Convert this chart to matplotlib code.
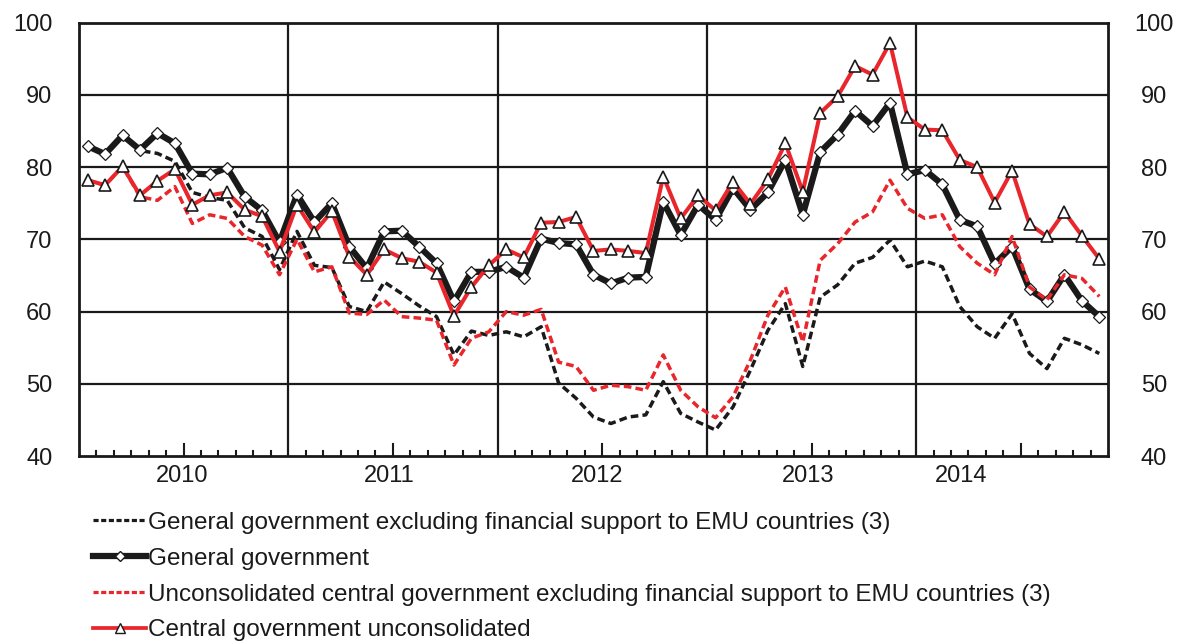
import numpy as np
from matplotlib import pyplot as plt
from matplotlib.lines import Line2D

plt.rcParams["font.family"] = ["Liberation Sans", "DejaVu Sans"]

# monthly data, Jan 2010 - Nov 2014
gg_excl = [82.9, 81.8, 84.4, 82.3, 81.9, 80.8, 76.5, 75.8, 75.4, 71.6, 70.4, 65.8,
           71.1, 66.4, 66.1, 60.7, 60.0, 64.1, 62.5, 60.8, 59.3, 54.0, 57.3, 56.7,
           57.2, 56.5, 57.9, 50.1, 48.0, 45.4, 44.5, 45.4, 45.7, 50.3, 45.9, 44.7,
           43.6, 46.8, 51.9, 57.4, 61.1, 52.4, 62.0, 63.7, 66.7, 67.5, 69.9, 66.2,
           67.0, 66.2, 60.7, 57.9, 56.3, 59.7, 54.2, 52.1, 56.3, 55.4, 54.2]
gg = [82.9, 81.8, 84.4, 82.4, 84.7, 83.3, 79.1, 79.0, 79.9, 75.9, 74.0, 69.6,
      76.2, 72.4, 75.0, 69.0, 66.0, 71.1, 71.2, 69.0, 66.7, 61.4, 65.5, 65.5,
      66.2, 64.7, 70.1, 69.5, 69.3, 65.1, 63.9, 64.7, 64.8, 75.2, 70.6, 74.8,
      72.7, 77.1, 74.1, 76.5, 81.0, 73.4, 82.1, 84.5, 87.8, 85.7, 88.9, 79.0,
      79.6, 77.6, 72.7, 71.8, 66.6, 69.0, 63.1, 61.4, 65.1, 61.5, 59.3]
cg_excl = [78.2, 77.5, 80.1, 75.9, 75.4, 77.3, 72.2, 73.4, 72.9, 70.4, 69.2, 65.1,
           70.0, 65.5, 66.2, 59.8, 59.6, 61.6, 59.3, 59.1, 58.8, 52.6, 56.3, 57.2,
           60.0, 59.5, 60.3, 53.0, 52.4, 49.1, 49.8, 49.6, 49.1, 54.0, 49.1, 46.8,
           45.3, 48.2, 53.3, 59.5, 63.4, 55.8, 67.1, 69.4, 72.4, 73.8, 78.2, 74.3,
           72.9, 73.4, 69.0, 66.7, 65.1, 70.4, 63.4, 61.6, 65.1, 64.6, 62.1]
cg = [78.2, 77.5, 80.1, 76.1, 78.1, 79.7, 74.8, 76.1, 76.5, 74.1, 73.2, 68.3,
      74.8, 71.0, 73.9, 67.6, 65.1, 68.6, 67.4, 66.9, 65.4, 59.4, 63.4, 66.4,
      68.6, 67.5, 72.3, 72.4, 73.1, 68.4, 68.6, 68.4, 68.1, 78.7, 72.9, 76.1,
      74.0, 78.0, 74.9, 78.3, 83.3, 76.6, 87.5, 89.8, 94.0, 92.8, 97.2, 86.9,
      85.2, 85.1, 81.0, 80.0, 75.1, 79.5, 72.1, 70.4, 73.8, 70.5, 67.3]
years = ["2010", "2011", "2012", "2013", "2014"]
year_pos = [5.9, 17.8, 29.7, 41.8, 50.6]
labels = ["General government excluding financial support to EMU countries (3)",
          "General government",
          "Unconsolidated central government excluding financial support to EMU countries (3)",
          "Central government unconsolidated"]

RED = "#e8262b"
INK = "#1a1a1a"
FS = 17
x = np.arange(len(gg)) + 0.5

fig = plt.figure(figsize=(11.82, 6.43), dpi=100)
ax = fig.add_axes([0.0668, 0.2908, 0.8706, 0.6739])

# grid
for v in range(50, 100, 10):
    ax.axhline(v, color=INK, lw=1.6, zorder=1)
for m in (12, 24, 36, 48):
    ax.axvline(m, color=INK, lw=1.6, zorder=1)

ax.plot(x, gg_excl, color=INK, lw=2.5, dashes=(2.2, 1.2), zorder=2)
ax.plot(x, gg, color=INK, lw=4.5, marker="D", ms=6.5, mfc="white",
        mec=INK, mew=0.9, zorder=3)
ax.plot(x, cg_excl, color=RED, lw=2.5, dashes=(2.2, 1.2), zorder=4)
ax.plot(x, cg, color=RED, lw=2.9, marker="^", ms=9, mfc="white",
        mec=INK, mew=1.2, zorder=5)

ax.set_xlim(0, 59)
ax.set_ylim(40, 100)
ax.set_yticks(range(40, 101, 10))
ax.set_xticks([])
for s in ax.spines.values():
    s.set_linewidth(2.0)
    s.set_color(INK)

# month ticks inside the bottom
for m in range(1, 59):
    if m % 12 == 0:
        continue
    h = 1.7 if m % 12 == 6 else 0.75
    ax.plot([m, m], [40, 40 + h], color=INK, lw=1.5, zorder=1)

for yr, p in zip(years, year_pos):
    ax.text(p, -0.045, yr, transform=ax.get_xaxis_transform(), ha="center",
            va="center", fontsize=FS, color=INK)

ax.tick_params(axis="y", length=0, pad=19, labelsize=FS, labelcolor=INK)
ax2 = ax.twinx()
ax2.set_ylim(40, 100)
ax2.set_yticks(range(40, 101, 10))
ax2.tick_params(axis="y", length=0, pad=33, labelsize=FS, labelcolor=INK)
for t in ax2.get_yticklabels():
    t.set_horizontalalignment("center")
for s in ax2.spines.values():
    s.set_visible(False)

h1 = Line2D([], [], color=INK, lw=2.3, dashes=(1.6, 0.8))
h2 = Line2D([0, 1, 2], [0, 0, 0], color=INK, lw=4.5, marker="D", ms=5, mfc="white",
            mec=INK, markevery=[1])
h3 = Line2D([], [], color=RED, lw=2.3, dashes=(1.6, 0.8))
h4 = Line2D([0, 1, 2], [0, 0, 0], color=RED, lw=2.7, marker="^", ms=7, mfc="white",
            mec=INK, markevery=[1])
fig.legend([h1, h2, h3, h4], labels, loc="upper left", bbox_to_anchor=(0.079, 0.204),
           frameon=False, fontsize=17.5, handlelength=2.15, handletextpad=0.1,
           labelspacing=0.57, borderpad=0, borderaxespad=0, labelcolor=INK)

plt.savefig("out.png", dpi=100)
